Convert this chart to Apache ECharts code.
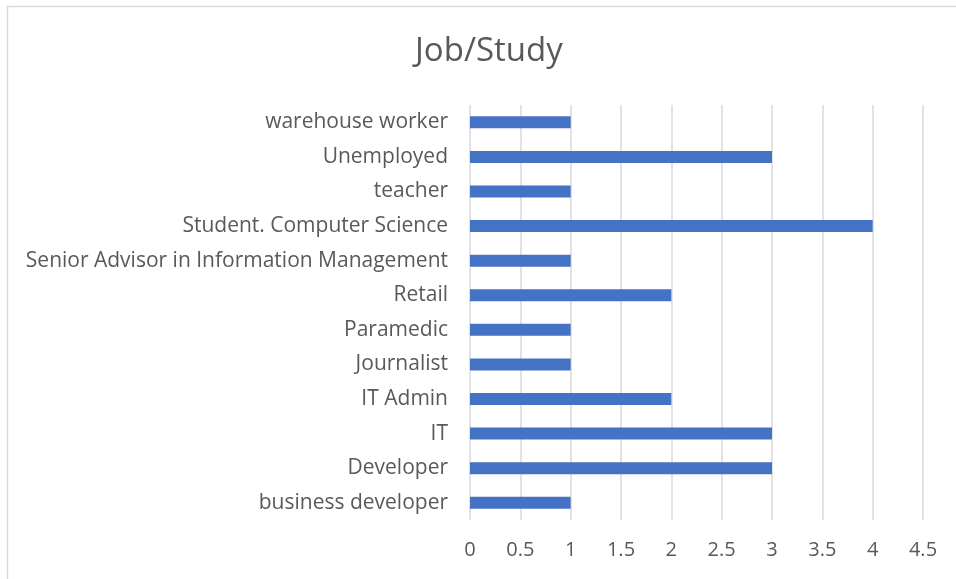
<!DOCTYPE html>
<html>
<head>
<meta charset="utf-8">
<script src="https://cdn.jsdelivr.net/npm/echarts@6/dist/echarts.min.js"></script>
<style>
html, body { margin: 0; padding: 0; background: #fff; }
#chart { width: 956px; height: 579px; }
</style>
</head>
<body>
<div id="chart"></div>
<script>
// categories listed bottom to top, as the category axis draws them
var categories = ['business developer', 'Developer', 'IT', 'IT Admin', 'Journalist', 'Paramedic',
    'Retail', 'Senior Advisor in Information Management', 'Student. Computer Science',
    'teacher', 'Unemployed', 'warehouse worker'];
var counts = [1, 3, 3, 2, 1, 1, 2, 1, 4, 1, 3, 1];

var myChart = echarts.init(document.getElementById('chart'));
var option = {
    backgroundColor: '#fff',
    title: {
        text: 'Job/Study',
        left: 410,
        top: 30,
        textStyle: {
            color: '#595959',
            fontSize: 33,
            fontWeight: 'normal',
            fontFamily: 'Open Sans'
        }
    },
    graphic: [{
        type: 'rect',
        shape: { x: 7.5, y: 6.5, width: 960, height: 590 },
        style: { fill: null, stroke: '#d9d9d9', lineWidth: 1.5 },
        silent: true
    }],
    grid: { left: 470, right: 33, top: 105, bottom: 59 },
    xAxis: {
        type: 'value',
        min: 0,
        max: 4.5,
        interval: 0.5,
        axisLine: { show: false },
        axisTick: { show: false },
        axisLabel: { color: '#595959', fontSize: 20, fontFamily: 'Open Sans', margin: 20 },
        splitLine: { lineStyle: { color: '#d9d9d9', width: 1.5 } }
    },
    yAxis: {
        type: 'category',
        data: categories,
        axisLine: { show: false },
        axisTick: { show: false },
        axisLabel: { color: '#595959', fontSize: 21, fontFamily: 'Open Sans', margin: 22, padding: [2, 0, 0, 0] }
    },
    series: [{
        type: 'bar',
        data: counts,
        barWidth: 12,
        itemStyle: { color: '#4472C4' }
    }]
};
myChart.setOption(option);
</script>
</body>
</html>
